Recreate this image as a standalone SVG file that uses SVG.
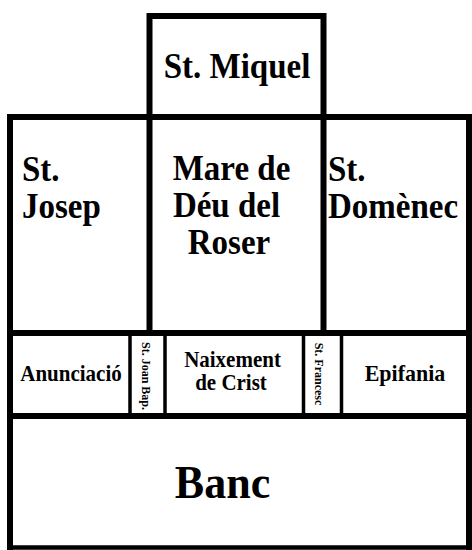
<svg xmlns="http://www.w3.org/2000/svg" width="472" height="550" viewBox="0 0 472 550">
<style>
.cell{fill:#fff;stroke:none}
.t{font-weight:bold;fill:#000}
.big{font-size:33px}
.mid{font-size:21px}
.sm{font-size:12px}
.ban{font-size:44px}
.thick{stroke:#000;stroke-width:6;fill:none;stroke-linecap:square;stroke-linejoin:miter}
.thin{stroke:#000;stroke-width:3.5;fill:none}
</style>
<rect x="0" y="0" width="472" height="550" fill="#fff"/>
<g font-family="'Liberation Serif', 'DejaVu Serif', serif">
<g id="miquel"><rect class="cell" x="150" y="16" width="173" height="101"/><text class="t big" text-anchor="middle" transform="translate(237,78) scale(1,1.06)">St. Miquel</text></g>
<g id="josep"><rect class="cell" x="10" y="117" width="140" height="216"/><text class="t big" transform="translate(22,181) scale(1,1.06)">St.</text><text class="t big" transform="translate(22,218) scale(1,1.06)">Josep</text></g>
<g id="mare"><rect class="cell" x="150" y="117" width="173" height="216"/><text class="t big" text-anchor="middle" transform="translate(231.5,180) scale(1,1.06)">Mare de</text><text class="t big" text-anchor="middle" transform="translate(226.5,217) scale(1,1.06)">Déu del</text><text class="t big" text-anchor="middle" transform="translate(229,254) scale(1,1.06)">Roser</text></g>
<g id="domenec"><rect class="cell" x="323" y="117" width="146" height="216"/><text class="t big" transform="translate(328,181) scale(1,1.06)">St.</text><text class="t big" transform="translate(328,218) scale(1,1.06)">Domènec</text></g>
<g id="anunciacio"><rect class="cell" x="10" y="333" width="120" height="83"/><text class="t mid" text-anchor="middle" transform="translate(71,381) scale(1,1.06)">Anunciació</text></g>
<g id="joan"><rect class="cell" x="130" y="333" width="35" height="83"/><text class="t sm" text-anchor="middle" transform="translate(142,376) rotate(90)">St. Joan Bap.</text></g>
<g id="naixement"><rect class="cell" x="165" y="333" width="138.5" height="83"/><text class="t mid" text-anchor="middle" transform="translate(232.5,367) scale(1,1.06)">Naixement</text><text class="t mid" text-anchor="middle" transform="translate(231,390) scale(1,1.06)">de Crist</text></g>
<g id="francesc"><rect class="cell" x="303.5" y="333" width="38" height="83"/><text class="t sm" text-anchor="middle" transform="translate(315,374) rotate(90)">St. Francesc</text></g>
<g id="epifania"><rect class="cell" x="341.5" y="333" width="127.5" height="83"/><text class="t mid" text-anchor="middle" style="font-size:22px" transform="translate(405,381) scale(1,1.06)">Epifania</text></g>
<g id="banc"><rect class="cell" x="10" y="416" width="459" height="131"/><text class="t ban" text-anchor="middle" transform="translate(222.5,498) scale(1,1.06)">Banc</text></g>
</g>
<g id="connectors">
<path class="thick" d="M149.5 117 V16 H323.5 V117"/>
<path class="thick" d="M10 117 H469 M10 333 H469 M10 416 H469 M149.5 117 V333 M323.5 117 V333 M10 117 V547 M469 117 V547"/>
<path class="thick" style="stroke-width:4.5" d="M10 547.5 H469"/>
<path class="thin" d="M130 333 V416 M165 333 V416 M303.5 333 V416 M341.5 333 V416"/>
</g>
</svg>
